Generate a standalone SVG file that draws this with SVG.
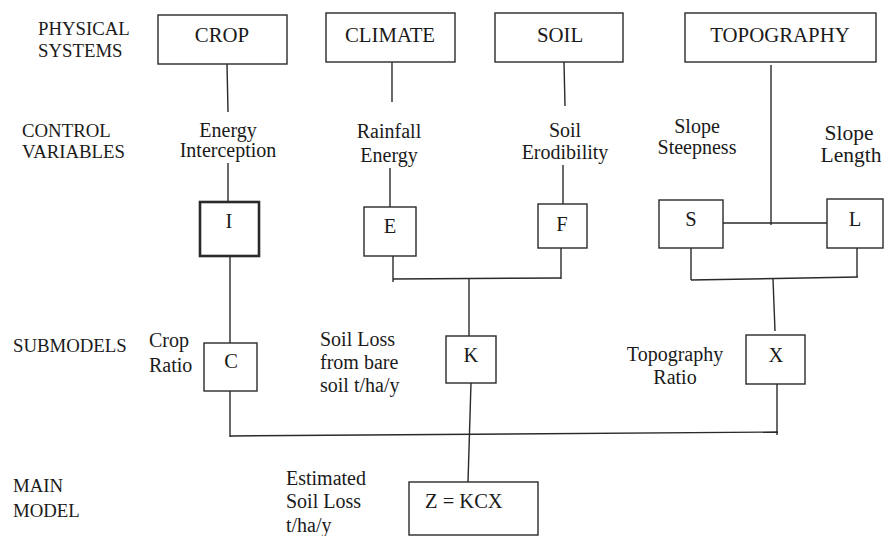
<svg xmlns="http://www.w3.org/2000/svg" width="885" height="536" viewBox="0 0 885 536">
<style>
text{font-family:"Liberation Serif","Times New Roman",serif;fill:#1a1a1a}
.row{font-size:18.8px}
.lab{font-size:20px}
.big{font-size:20.8px}
.ltr{font-size:20.5px}
.sl{font-size:21.5px}
.box{fill:#fff;stroke:#2a2a2a;stroke-width:1.4}
.thick{stroke-width:2.6}
.c{text-anchor:middle}
#connectors line{stroke:#2a2a2a;stroke-width:1.4}
</style>
<rect width="885" height="536" fill="#fff"/>
<g id="connectors">
<line x1="227" y1="64" x2="228" y2="112"/>
<line x1="392" y1="62" x2="392" y2="102"/>
<line x1="564" y1="62" x2="565" y2="106"/>
<line x1="771" y1="65" x2="771" y2="225"/>
<line x1="228" y1="163" x2="228" y2="202"/>
<line x1="390" y1="168" x2="390" y2="207"/>
<line x1="563" y1="165" x2="563" y2="204"/>
<line x1="723" y1="223" x2="827" y2="223"/>
<line x1="230" y1="256" x2="230" y2="343"/>
<line x1="393" y1="252" x2="393" y2="282"/>
<line x1="393" y1="279" x2="561" y2="278"/>
<line x1="561" y1="248" x2="561" y2="279"/>
<line x1="469" y1="279" x2="469" y2="336"/>
<line x1="691" y1="246" x2="691" y2="280"/>
<line x1="857" y1="248" x2="857" y2="277"/>
<line x1="691" y1="280" x2="858" y2="277"/>
<line x1="773" y1="279" x2="775" y2="331"/>
<line x1="230" y1="387" x2="230" y2="437"/>
<line x1="230" y1="436" x2="778" y2="432"/>
<line x1="777" y1="381" x2="777" y2="435"/>
<line x1="471" y1="383" x2="468" y2="482"/>
</g>
<g id="row-labels">
<text class="row" x="38" y="35">PHYSICAL</text>
<text class="row" x="38" y="57">SYSTEMS</text>
<text class="row" x="22" y="137">CONTROL</text>
<text class="row" x="22" y="158">VARIABLES</text>
<text class="row" x="13" y="352">SUBMODELS</text>
<text class="row" x="13" y="492">MAIN</text>
<text class="row" x="13" y="517">MODEL</text>
</g>
<g id="crop"><rect class="box" x="158" y="15" width="129" height="49"/><text class="big c" x="222" y="42">CROP</text></g>
<g id="climate"><rect class="box" x="326" y="13" width="129" height="49"/><text class="big c" x="390" y="42">CLIMATE</text></g>
<g id="soil"><rect class="box" x="495" y="13" width="128" height="49"/><text class="big c" x="560" y="42">SOIL</text></g>
<g id="topography"><rect class="box" x="685" y="13" width="191" height="49"/><text class="big c" x="780" y="42">TOPOGRAPHY</text></g>
<g id="energy-interception"><text class="lab c" x="228" y="137">Energy</text><text class="lab c" x="228" y="157">Interception</text></g>
<g id="rainfall-energy"><text class="lab c" x="389" y="138">Rainfall</text><text class="lab c" x="389" y="162">Energy</text></g>
<g id="soil-erodibility"><text class="lab c" x="565" y="137">Soil</text><text class="lab c" x="565" y="159">Erodibility</text></g>
<g id="slope-steepness"><text class="lab c" x="697" y="133">Slope</text><text class="lab c" x="697" y="154">Steepness</text></g>
<g id="slope-length"><text class="sl c" x="849" y="140">Slope</text><text class="sl c" x="851" y="162">Length</text></g>
<g id="I"><rect class="box thick" x="200" y="202" width="59" height="54"/><text class="ltr c" x="229" y="228">I</text></g>
<g id="E"><rect class="box" x="364" y="207" width="52" height="49"/><text class="ltr c" x="390" y="233">E</text></g>
<g id="F"><rect class="box" x="538" y="204" width="49" height="44"/><text class="ltr c" x="562" y="231">F</text></g>
<g id="S"><rect class="box" x="659" y="200" width="64" height="48"/><text class="ltr c" x="691" y="226">S</text></g>
<g id="L"><rect class="box" x="827" y="199" width="56" height="49"/><text class="ltr c" x="855" y="226">L</text></g>
<g id="C"><rect class="box" x="204" y="343" width="53" height="48"/><text class="ltr c" x="231" y="368">C</text><text class="lab" x="149" y="347">Crop</text><text class="lab" x="149" y="372">Ratio</text></g>
<g id="K"><rect class="box" x="446" y="336" width="50" height="47"/><text class="ltr c" x="471" y="362">K</text><text class="lab" x="320" y="346">Soil Loss</text><text class="lab" x="320" y="369">from bare</text><text class="lab" x="320" y="392">soil t/ha/y</text></g>
<g id="X"><rect class="box" x="746" y="335" width="59" height="49"/><text class="ltr c" x="776" y="362">X</text><text class="lab c" x="675" y="361">Topography</text><text class="lab c" x="675" y="384">Ratio</text></g>
<g id="Z"><rect class="box" x="409" y="482" width="129" height="53"/><text class="ltr" x="425" y="508">Z = KCX</text><text class="lab" x="286" y="485">Estimated</text><text class="lab" x="286" y="508">Soil Loss</text><text class="lab" x="286" y="532">t/ha/y</text></g>
</svg>
